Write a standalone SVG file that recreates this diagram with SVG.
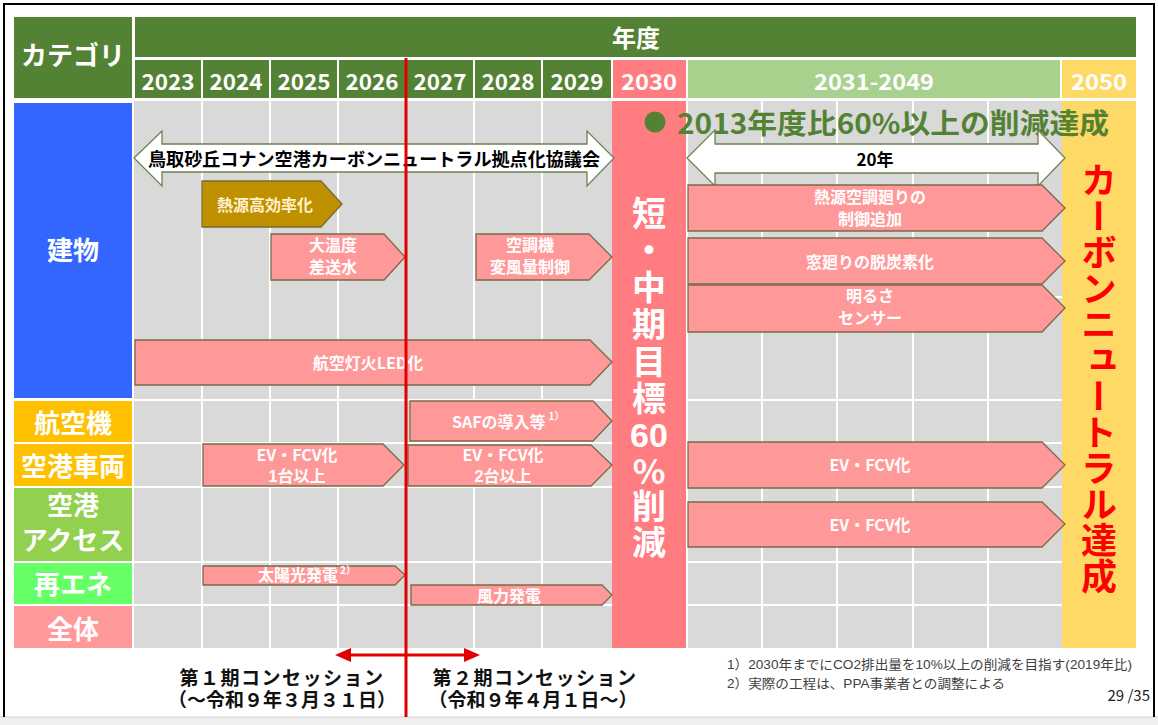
<svg xmlns="http://www.w3.org/2000/svg" width="1158" height="725" viewBox="0 0 1158 725">
<style>
text{font-family:"Noto Sans CJK JP","Noto Sans",sans-serif;dominant-baseline:central;text-anchor:middle}
.lt{font-family:"Liberation Sans","Noto Sans CJK JP",sans-serif}
.w{fill:#fff;font-weight:700}
.hdr{fill:#548235}
.yr{fill:#fff;font-weight:700;font-size:22px}
.cat{fill:#fff;font-weight:700;font-size:26px}
.pa{fill:#ff9999;stroke:#7a6a48;stroke-width:1.3}
.ga{fill:#bf9000;stroke:#7a6a30;stroke-width:1.3}
.wa{fill:#fff;stroke:#6f8050;stroke-width:1.3}
.at{fill:#fff;font-weight:700;font-size:16px}
.grid{stroke:#fff;stroke-width:2}
.bt{fill:#111;font-weight:700;font-size:19px}
.fn{fill:#404040;font-size:13px;text-anchor:start}
</style>
<rect width="1158" height="725" fill="#fff"/>
<rect x="0" y="717" width="1158" height="8" fill="#efefef"/>
<line x1="0" y1="717" x2="1158" y2="717" stroke="#d4d4d4" stroke-width="1"/>
<path d="M4,717 V4 H1154 V717" fill="none" stroke="#000" stroke-width="2"/>

<g id="header">
<rect class="hdr" x="14" y="17" width="118" height="81"/>
<text class="cat" x="73" y="53">カテゴリ</text>
<rect class="hdr" x="135" y="17" width="1001" height="40"/>
<text class="w" x="636" y="36" font-size="24">年度</text>
<rect class="hdr" x="135" y="60" width="66" height="38"/>
<rect class="hdr" x="203" y="60" width="66" height="38"/>
<rect class="hdr" x="271" y="60" width="66" height="38"/>
<rect class="hdr" x="339" y="60" width="66" height="38"/>
<rect class="hdr" x="407" y="60" width="66" height="38"/>
<rect class="hdr" x="475" y="60" width="66" height="38"/>
<rect class="hdr" x="543" y="60" width="68" height="38"/>
<rect x="613" y="60" width="73" height="38" fill="#ff7c80"/>
<rect x="688" y="60" width="372" height="38" fill="#a9d18e"/>
<rect x="1062" y="60" width="74" height="38" fill="#ffd966"/>
<text class="yr" x="168" y="80" textLength="53" lengthAdjust="spacingAndGlyphs">2023</text>
<text class="yr" x="236" y="80" textLength="53" lengthAdjust="spacingAndGlyphs">2024</text>
<text class="yr" x="304" y="80" textLength="53" lengthAdjust="spacingAndGlyphs">2025</text>
<text class="yr" x="372" y="80" textLength="53" lengthAdjust="spacingAndGlyphs">2026</text>
<text class="yr" x="440" y="80" textLength="53" lengthAdjust="spacingAndGlyphs">2027</text>
<text class="yr" x="508" y="80" textLength="53" lengthAdjust="spacingAndGlyphs">2028</text>
<text class="yr" x="577" y="80" textLength="53" lengthAdjust="spacingAndGlyphs">2029</text>
<text class="yr" x="649" y="80" textLength="56" lengthAdjust="spacingAndGlyphs">2030</text>
<text class="yr" x="874" y="80" textLength="120" lengthAdjust="spacingAndGlyphs">2031-2049</text>
<text class="yr" x="1099" y="80" textLength="56" lengthAdjust="spacingAndGlyphs">2050</text>
</g>

<g id="categories">
<rect x="14" y="103" width="118" height="295" fill="#3366ff"/>
<text class="cat" x="73" y="248">建物</text>
<rect x="14" y="401" width="118" height="41" fill="#ffc000"/>
<text class="cat" x="73" y="421">航空機</text>
<rect x="14" y="444" width="118" height="42" fill="#ffc000"/>
<text class="cat" x="73" y="464">空港車両</text>
<rect x="14" y="488" width="118" height="73" fill="#92d050"/>
<text class="cat lt"><tspan x="73" y="506">空港</tspan><tspan x="73" y="541">アクセス</tspan></text>
<rect x="14" y="563" width="118" height="41" fill="#66ff66"/>
<text class="cat" x="73" y="582">再エネ</text>
<rect x="14" y="606" width="118" height="42" fill="#ff9999"/>
<text class="cat" x="73" y="627">全体</text>
</g>

<g id="grid">
<rect x="134" y="101" width="478" height="547" fill="#d9d9d9"/>
<rect x="688" y="101" width="374" height="547" fill="#d9d9d9"/>
<path class="grid" d="M202,101V648 M270,101V648 M338,101V648 M474,101V648 M542,101V648 M762,101V648 M837,101V648 M913,101V648 M988,101V648 M134,400H612 M134,443H612 M134,487H612 M134,562H612 M134,605H612 M688,297H1062 M688,400H1062 M688,443H1062 M688,487H1062 M688,562H1062 M688,605H1062"/>
</g>

<g id="col2030">
<rect x="612" y="101" width="74" height="547" fill="#ff7c80"/>
<text class="w" x="649" y="196" writing-mode="vertical-rl" style="text-anchor:start;text-orientation:upright" font-size="34" letter-spacing="3">短・中期目標</text>
<text class="w" x="649" y="435" font-size="34" style="font-family:'Liberation Sans','Noto Sans CJK JP',sans-serif">60</text>
<text class="w" x="649" y="454" writing-mode="vertical-rl" style="text-anchor:start;text-orientation:upright" font-size="34" letter-spacing="1.5">%削減</text>
</g>

<g id="col2050">
<rect x="1062" y="101" width="74" height="547" fill="#ffd966"/>
<text x="1099" y="162" writing-mode="vertical-rl" style="text-anchor:start" fill="#ff0000" font-weight="700" font-size="36">カーボンニュートラル達成</text>
</g>

<g id="goal">
<circle cx="655" cy="122" r="10.5" fill="#548235"/>
<text x="677" y="122" fill="#548235" font-weight="700" font-size="28" style="text-anchor:start" textLength="432" lengthAdjust="spacingAndGlyphs">2013年度比60%以上の削減達成</text>
</g>

<g id="kyogikai">
<path class="wa" d="M134,158 L162,131 V144 H587 V131 L614,158 L587,186 V172 H162 V186 Z"/>
<text x="374" y="158" fill="#000" font-weight="700" font-size="18" textLength="452" lengthAdjust="spacingAndGlyphs">鳥取砂丘コナン空港カーボンニュートラル拠点化協議会</text>
</g>

<g id="nen20">
<path class="wa" d="M687,158 L715,130 V144 H1038 V130 L1065,158 L1038,186 V173 H715 V186 Z"/>
<text x="875" y="158" fill="#000" font-weight="700" font-size="17">20年</text>
</g>

<g id="netsugen">
<path class="ga" d="M202,181 H321 L342,204 L321,227 H202 Z"/>
<text x="265" y="204" fill="#fff2cc" font-weight="700" font-size="16">熱源高効率化</text>
</g>

<g id="daionndo">
<path class="pa" d="M271,234 H384 L405,257 L384,280 H271 Z"/>
<text class="at lt"><tspan x="333" y="245">大温度</tspan><tspan x="333" y="267">差送水</tspan></text>
</g>

<g id="kuchoki">
<path class="pa" d="M476,234 H589 L612,257 L589,280 H476 Z"/>
<text class="at lt"><tspan x="530" y="245">空調機</tspan><tspan x="530" y="267">変風量制御</tspan></text>
</g>

<g id="led">
<path class="pa" d="M135,340 H590 L612,362 L590,385 H135 Z"/>
<text class="at" x="368" y="362">航空灯火LED化</text>
</g>

<g id="saf">
<path class="pa" d="M410,401 H593 L612,421 L593,441 H410 Z"/>
<text class="at" x="452" y="421" style="text-anchor:start">SAFの導入等<tspan font-size="10" dx="3" dy="-6">1）</tspan></text>
</g>

<g id="ev1">
<path class="pa" d="M203,444 H383 L404,465 L383,486 H203 Z"/>
<text class="at"><tspan x="297" y="454">EV・FCV化</tspan></text>
<text class="at lt"><tspan x="297" y="476">1台以上</tspan></text>
</g>

<g id="ev2">
<path class="pa" d="M408,445 H591 L612,465 L591,486 H408 Z"/>
<text class="at"><tspan x="503" y="454">EV・FCV化</tspan></text>
<text class="at lt"><tspan x="503" y="476">2台以上</tspan></text>
</g>

<g id="solar">
<path class="pa" d="M203,566 H395 L405,575 L395,585 H203 Z"/>
<text class="at" x="258" y="574" style="text-anchor:start">太陽光発電<tspan font-size="10" dx="2" dy="-5">2）</tspan></text>
</g>

<g id="wind">
<path class="pa" d="M411,585 H602 L612,595 L602,605 H411 Z"/>
<text class="at" x="509" y="595">風力発電</text>
</g>

<g id="netsugen2">
<path class="pa" d="M688,185 H1042 L1065,208 L1042,231 H688 Z"/>
<text class="at lt"><tspan x="870" y="197">熱源空調廻りの</tspan><tspan x="870" y="219">制御追加</tspan></text>
</g>

<g id="mado">
<path class="pa" d="M688,238 H1042 L1065,261 L1042,284 H688 Z"/>
<text class="at" x="870" y="261">窓廻りの脱炭素化</text>
</g>

<g id="akarusa">
<path class="pa" d="M688,285 H1042 L1065,308 L1042,332 H688 Z"/>
<text class="at lt"><tspan x="870" y="296">明るさ</tspan><tspan x="870" y="318">センサー</tspan></text>
</g>

<g id="ev3">
<path class="pa" d="M688,442 H1042 L1065,465 L1042,488 H688 Z"/>
<text class="at" x="870" y="464">EV・FCV化</text>
</g>

<g id="ev4">
<path class="pa" d="M688,502 H1042 L1065,524 L1042,547 H688 Z"/>
<text class="at" x="870" y="524">EV・FCV化</text>
</g>

<g id="connectors">
<line x1="406" y1="58" x2="406" y2="717" stroke="#e00000" stroke-width="3"/>
<line x1="348" y1="655" x2="466" y2="655" stroke="#e00000" stroke-width="3"/>
<path d="M335,655 L351,648 V662 Z M480,655 L464,648 V662 Z" fill="#e00000"/>
</g>

<g id="concession">
<text class="bt lt"><tspan x="282" y="678" letter-spacing="1.5">第１期コンセッション</tspan><tspan x="282" y="700">（～令和９年３月３１日）</tspan></text>
<text class="bt lt"><tspan x="535" y="678" letter-spacing="1.5">第２期コンセッション</tspan><tspan x="533" y="700">（令和９年４月１日～）</tspan></text>
</g>

<g id="notes">
<text class="fn lt"><tspan x="727" y="664" textLength="405" lengthAdjust="spacingAndGlyphs">1）2030年までにCO2排出量を10%以上の削減を目指す(2019年比)</tspan><tspan x="727" y="683" textLength="278" lengthAdjust="spacingAndGlyphs">2）実際の工程は、PPA事業者との調整による</tspan></text>
<text x="1150" y="694" fill="#222" font-size="15" style="text-anchor:end">29 /35</text>
</g>
</svg>
